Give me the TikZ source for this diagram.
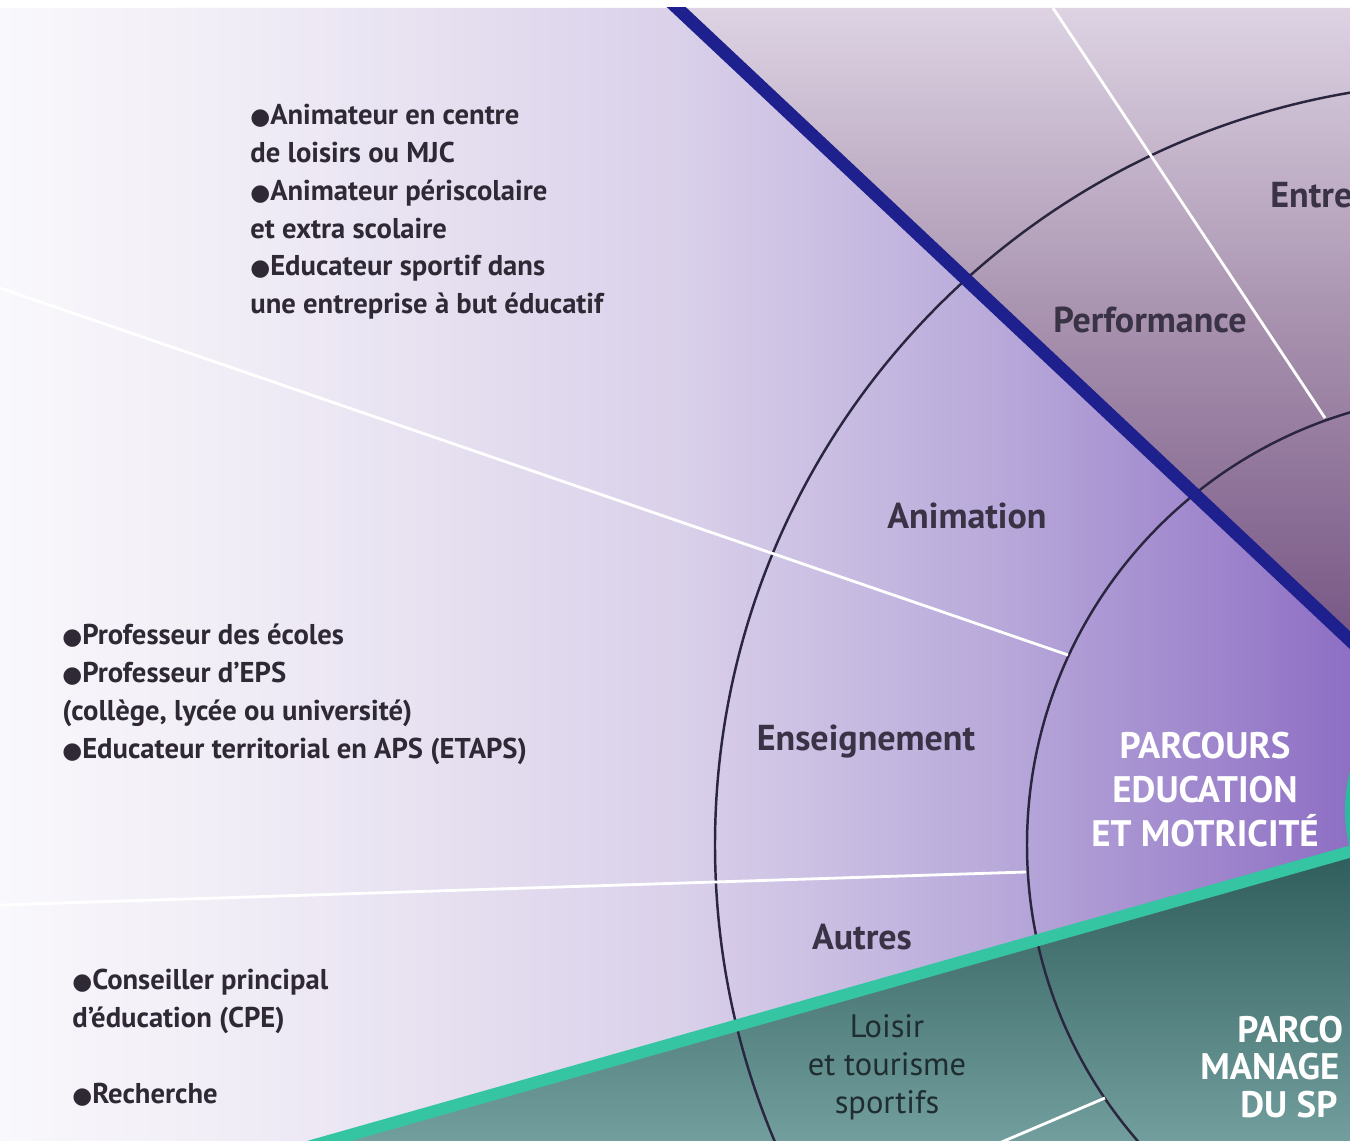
\documentclass[tikz,border=0pt]{standalone}
\usepackage{fontspec}
\setmainfont{PT Sans}
\newfontfamily\dotfont{DejaVu Sans}
\definecolor{eduA}{HTML}{F9F8FC}
\definecolor{eduB}{HTML}{EFEBF5}
\definecolor{eduC}{HTML}{DAD1EA}
\definecolor{eduD}{HTML}{B8A9DA}
\definecolor{eduE}{HTML}{8E6FC4}
\definecolor{perfA}{HTML}{DDD3E3}
\definecolor{perfB}{HTML}{A791AE}
\definecolor{perfC}{HTML}{785785}
\definecolor{manTop}{HTML}{2F5D5B}
\definecolor{manBot}{HTML}{729F9D}
\definecolor{mint}{HTML}{35C5A3}
\definecolor{navy}{HTML}{1E208E}
\definecolor{ringline}{HTML}{2B2640}
\definecolor{listtext}{HTML}{2E2934}
\definecolor{labtext}{HTML}{3A3346}
\definecolor{loisirtext}{HTML}{1F2C30}
\pgfdeclarehorizontalshading{eduShade}{100bp}{color(0bp)=(eduA); color(25bp)=(eduA); color(35bp)=(eduB); color(50bp)=(eduC); color(62bp)=(eduD); color(75bp)=(eduE); color(100bp)=(eduE)}
\pgfdeclareverticalshading{perfShade}{100bp}{color(0bp)=(perfC); color(25bp)=(perfC); color(50bp)=(perfB); color(75bp)=(perfA); color(100bp)=(perfA)}
\newcommand{\pt}{{\dotfont\fontsize{13}{13}\selectfont ●}}

\begin{document}
\begin{tikzpicture}[x=0.02cm,y=-0.02cm,
  ring/.style={draw=ringline,line width=1.4pt},
  sep/.style={draw=white,line width=1.6pt},
  lab/.style={text=labtext,inner sep=0pt,font=\bfseries\fontsize{20.5}{24}\selectfont},
  liste/.style={text=listtext,align=left,anchor=north west,inner sep=0pt,font=\bfseries\fontsize{16.3}{21.5}\selectfont},
  loisir/.style={text=loisirtext,align=center,inner sep=0pt,font=\fontsize{18.5}{21.5}\selectfont},
  parc/.style={text=white,align=center,inner sep=0pt,font=\bfseries\fontsize{21}{25}\selectfont}]
\useasboundingbox (0,0) rectangle (1350,1141);
\fill[white] (0,0) rectangle (1350,1141);

\begin{scope}
\clip (0,8) rectangle (1350,1141);
\shade[shading=eduShade] (0,8)--(677,8)--(1350,640)--(1350,852)--(330,1141)--(0,1141)--cycle;
\shade[shading=perfShade] (677,8)--(1350,8)--(1350,640)--cycle;
\shade[top color=manTop,bottom color=manBot] (330,1141)--(1350,852)--(1350,1141)--cycle;
\fill[mint!85!teal] (1495,810) circle[radius=150];

\draw[ring] (1478,845) circle[radius=451] (1478,845) circle[radius=763];

\draw[sep] (1053,8)--(1325,418);
\draw[sep] (0,288)--(1068,655);
\draw[sep] (0,905)--(1026,872);
\draw[sep] (1105,1098)--(990,1147);

\draw[navy,line width=7.4pt] (657,-11)--(1370,659);
\draw[mint,line width=6.8pt] (290,1152)--(1370,846);
\end{scope}

\node[liste] (animList) at (250,104) {\pt Animateur en centre\\de loisirs ou MJC\\\pt Animateur périscolaire\\et extra scolaire\\\pt Educateur sportif dans\\une entreprise à but éducatif};
\node[liste] (ensList) at (62,624) {\pt Professeur des écoles\\\pt Professeur d'EPS\\(collège, lycée ou université)\\\pt Educateur territorial en APS (ETAPS)};
\node[liste] (autList) at (72,969) {\pt Conseiller principal\\d’éducation (CPE)\\[21.5pt]\pt Recherche};

\node[lab,anchor=west] (entre) at (1270,195) {Entre};
\node[lab] (perf) at (1150,320) {Performance};
\node[lab] (anim) at (967,516) {Animation};
\node[lab] (ens) at (866,742) {Enseignement};
\node[lab] (autres) at (862,937) {Autres};
\node[loisir] (lois) at (887,1067) {Loisir\\et tourisme\\sportifs};

\node[parc] (edu) at (1205,790) {PARCOURS\\EDUCATION\\ET MOTRICITÉ};
\node[parc,anchor=west] (man1) at (1237,1030) {PARCO};
\node[parc,anchor=west] (man2) at (1200,1067) {MANAGE};
\node[parc,anchor=west] (man3) at (1240,1105) {DU SP};
\end{tikzpicture}
\end{document}
